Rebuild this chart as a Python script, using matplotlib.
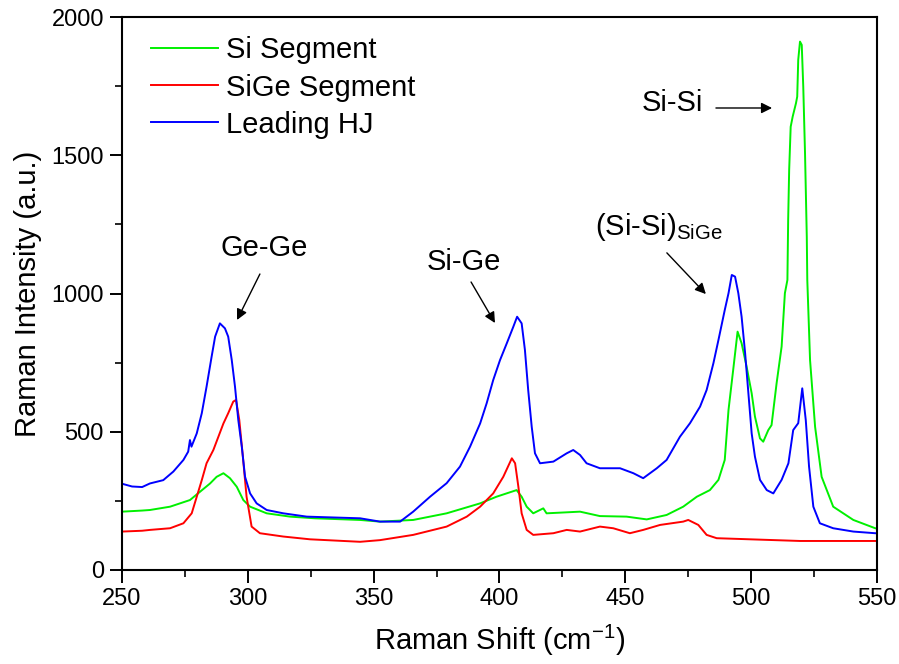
import matplotlib
matplotlib.use("Agg")
import matplotlib.pyplot as plt
from matplotlib.ticker import MultipleLocator

plt.rcParams['font.family'] = ['Liberation Sans', 'DejaVu Sans']
plt.rcParams['mathtext.fontset'] = 'custom'
plt.rcParams['mathtext.rm'] = 'Liberation Sans'
plt.rcParams['mathtext.it'] = 'Liberation Sans:italic'
plt.rcParams['mathtext.bf'] = 'Liberation Sans:bold'

# ---- data ----
si_x = [250, 258, 261.1, 269.1, 277.0, 281.0, 285.0, 287.6, 290.3, 292.9, 295.6, 298.2, 300.9,
        307.5, 316.8, 326.7, 344.6, 352.5, 365.7, 379.0, 392.3, 398.8, 406.8, 408.8, 410.8,
        413.4, 417.4, 418.7, 432.0, 439.9, 450.5, 458.5, 466.4, 473.0, 478.4, 483.6, 487.0,
        489.5, 491.0, 493.0, 494.6, 496.2, 498.2, 500.2, 501.5, 503.5, 504.8, 506.8, 508.1,
        510.1, 512.1, 513.4, 514.4, 514.7, 515.1, 515.7, 516.5, 517.8, 518.3, 518.7, 519.4,
        520.1, 520.7, 521.4, 522.1, 522.3, 523.4, 525.4, 528.0, 532.6, 540.6, 549.3, 550]
si_y = [211, 215, 217, 229, 253, 283, 313, 337, 350, 332, 301, 253, 229,
        205, 193, 187, 181, 175, 181, 205, 241, 265, 289, 265, 229,
        205, 223, 205, 211, 195, 193, 183, 199, 229, 265, 289, 326,
        398, 579, 735, 862, 820, 735, 639, 555, 476, 464, 506, 524,
        675, 808, 1001, 1049, 1266, 1447, 1603, 1640, 1688, 1712, 1845, 1911,
        1899, 1748, 1507, 1205, 1049, 759, 518, 337, 229, 181, 151, 150]

sige_x = [250, 258, 261.1, 269.1, 274.4, 277.7, 279.7, 281.7, 283.6, 286.3, 288.3, 290.3, 292.2,
          294.2, 295.3, 296.6, 297.9, 299.5, 301.5, 304.8, 314.1, 324.7, 344.6, 352.5, 365.7,
          379.0, 387.0, 392.3, 397.5, 401.5, 404.9, 406.2, 407.5, 408.8, 410.8, 413.4, 421.4,
          426.7, 432.0, 439.9, 445.2, 451.8, 457.1, 463.8, 473.0, 475.0, 479.0, 482.3, 486.3,
          499.5, 519.4, 549.3, 550]
sige_y = [139, 142, 145, 151, 169, 205, 265, 325, 386, 434, 482, 530, 567,
          609, 615, 543, 422, 265, 157, 133, 121, 111, 102, 108, 127,
          157, 193, 229, 277, 337, 404, 386, 301, 205, 145, 127, 133,
          145, 139, 157, 151, 133, 145, 163, 175, 181, 163, 127, 115,
          111, 105, 105, 105]

hj_x = [250, 254, 258, 261.1, 266.4, 270.4, 274.4, 276.3, 277.0, 277.6, 279.7, 281.7, 283.6,
        285.6, 287.0, 288.9, 290.9, 292.2, 293.6, 294.9, 296.2, 297.6, 298.9, 300.9, 303.5,
        307.5, 314.1, 323.4, 344.6, 352.5, 360.5, 365.7, 372.4, 379.0, 384.3, 388.3, 392.3,
        394.9, 397.5, 400.2, 402.9, 405.5, 407.0, 408.8, 410.1, 411.4, 412.8, 414.1, 416.1,
        421.4, 426.7, 429.3, 432.0, 434.6, 439.9, 447.9, 453.2, 457.1, 462.5, 466.4, 471.7,
        475.7, 479.7, 482.3, 485.0, 487.0, 489.5, 491.0, 492.3, 493.6, 494.9, 496.2, 497.6,
        498.9, 500.2, 501.5, 503.5, 506.2, 508.8, 512.1, 514.8, 516.7, 518.7, 520.3, 521.7,
        523.0, 524.7, 527.3, 532.6, 540.6, 549.3, 550]
hj_y = [312, 302, 300, 313, 325, 356, 398, 428, 470, 446, 494, 567, 663,
        771, 844, 892, 874, 844, 760, 663, 543, 446, 337, 277, 241,
        217, 205, 193, 187, 175, 175, 211, 265, 314, 374, 446, 530,
        603, 687, 759, 820, 880, 916, 892, 796, 651, 518, 422, 386,
        392, 422, 434, 416, 386, 368, 368, 350, 332, 368, 398, 482,
        531, 591, 651, 748, 832, 940, 1001, 1067, 1061, 1001, 916, 784,
        639, 494, 410, 326, 289, 277, 326, 386, 506, 531, 657, 542,
        374, 229, 169, 151, 139, 133, 133]

series_labels = ['Si Segment', 'SiGe Segment', 'Leading HJ']
series_colors = ['#00f000', '#ff0000', '#0000ff']

# ---- figure ----
fig = plt.figure(figsize=(8.99, 6.64), dpi=100)
ax = fig.add_axes([122 / 899, 94 / 664, 755 / 899, 553 / 664])

for xs, ys, lab, col in zip([si_x, sige_x, hj_x], [si_y, sige_y, hj_y], series_labels, series_colors):
    ax.plot(xs, ys, color=col, lw=1.4, label=lab)

ax.set_xlim(250, 550)
ax.set_ylim(0, 2000)
ax.xaxis.set_major_locator(MultipleLocator(50))
ax.xaxis.set_minor_locator(MultipleLocator(25))
ax.yaxis.set_major_locator(MultipleLocator(500))
ax.yaxis.set_minor_locator(MultipleLocator(250))
ax.tick_params(which='major', direction='out', length=9, width=1.4, labelsize=17, pad=4)
ax.tick_params(which='minor', direction='out', length=5, width=1.2)
for s in ax.spines.values():
    s.set_linewidth(1.5)

ax.set_xlabel('Raman Shift (cm$^{-1}$)', fontsize=21)
ax.set_ylabel('Raman Intensity (a.u.)', fontsize=21)
ax.xaxis.set_label_coords(0.5, (570 - 640) / 553)
ax.xaxis.label.set_va('center')
ax.yaxis.set_label_coords((28 - 122) / 755, 0.5)
ax.yaxis.label.set_va('center')

leg = ax.legend(loc='upper left', bbox_to_anchor=((151 - 122) / 755, (570 - 36.5) / 553),
                frameon=False, fontsize=21, handlelength=2.28, handletextpad=0.3,
                labelspacing=0.31, borderpad=0, borderaxespad=0)

arrow_kw = dict(arrowstyle='-|>', color='black', lw=1.0, mutation_scale=16, shrinkA=0, shrinkB=0)
ax.text(306.4, 1164.6, 'Ge-Ge', fontsize=21, ha='center', va='center')
ax.annotate('', xy=(295.7, 904.2), xytext=(304.8, 1070.5), arrowprops=arrow_kw)
ax.text(385.9, 1113.9, 'Si-Ge', fontsize=21, ha='center', va='center')
ax.annotate('', xy=(398.2, 893.3), xytext=(388.7, 1041.6), arrowprops=arrow_kw)
ax.text(437.9, 1211, '(Si-Si)$_{\\mathrm{SiGe}}$', fontsize=21, ha='left', va='baseline')
ax.annotate('', xy=(482.0, 998), xytext=(466.5, 1147), arrowprops=arrow_kw)
ax.text(468.5, 1689, 'Si-Si', fontsize=21, ha='center', va='center')
ax.annotate('', xy=(508.3, 1670.9), xytext=(486.0, 1670.9), arrowprops=arrow_kw)

fig.savefig('out.png', dpi=100)
